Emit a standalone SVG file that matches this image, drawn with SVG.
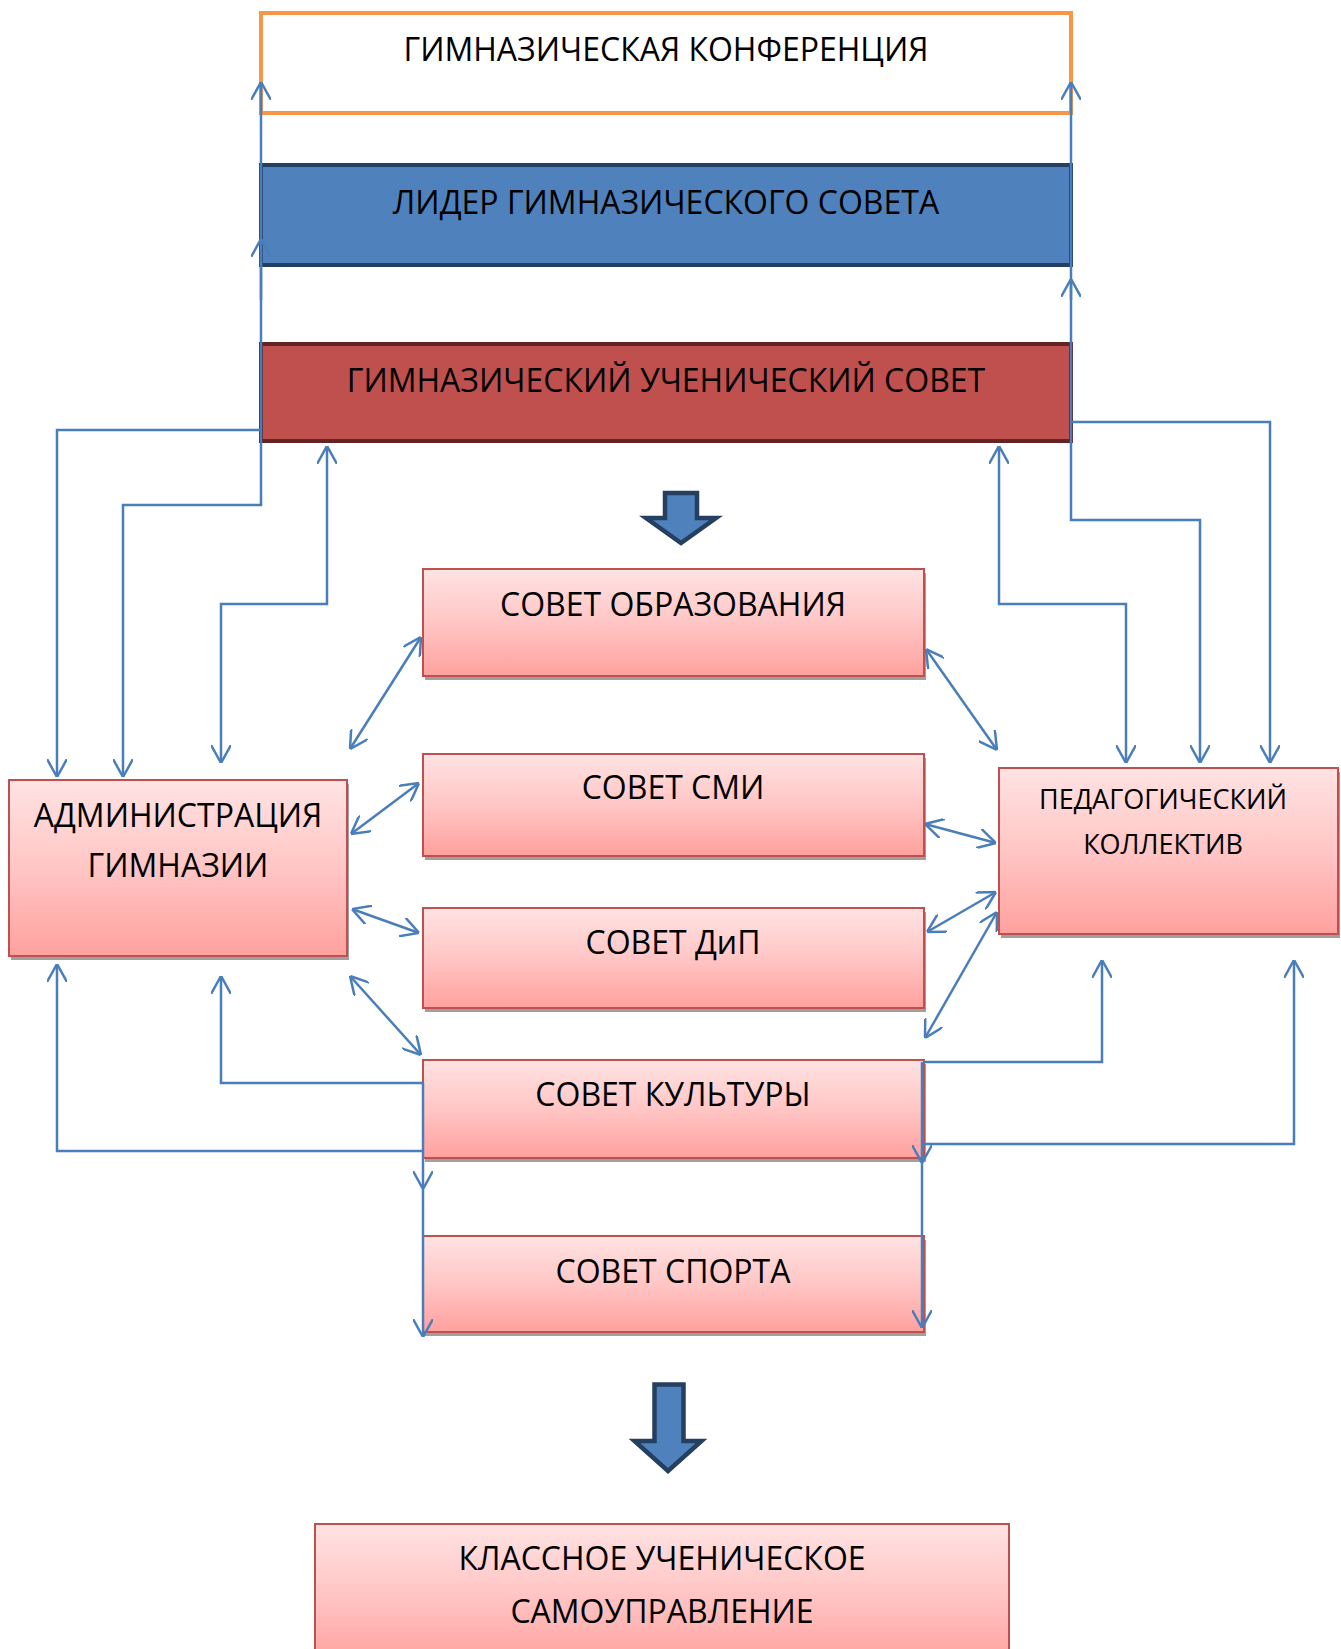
<svg xmlns="http://www.w3.org/2000/svg" width="1341" height="1649" viewBox="0 0 1341 1649">
<style>
.t{font-family:"Open Sans","Noto Sans","Liberation Sans",sans-serif;font-size:32px;fill:#000;text-anchor:middle}
.ts{font-size:27px}
.pk{fill:url(#pg);stroke:#C0504D;stroke-width:2}
.sh{fill:#A0A0A0}
.c{fill:none;stroke:#4A7EBB;stroke-width:2.5}
.ba{fill:#4F81BD;stroke:#243F60;stroke-width:4.5;stroke-linejoin:miter}
</style>
<defs>
<linearGradient id="pg" x1="0" y1="0" x2="0" y2="1">
<stop offset="0" stop-color="#FFE3E3"/>
<stop offset="0.5" stop-color="#FFC6C5"/>
<stop offset="1" stop-color="#FFA19E"/>
</linearGradient>
<marker id="a" viewBox="0 0 18 20" refX="18" refY="10" markerWidth="18" markerHeight="20" markerUnits="userSpaceOnUse" orient="auto-start-reverse">
<path d="M0,0 L18,10 L0,20" fill="none" stroke="#4A7EBB" stroke-width="2.5"/>
</marker>
</defs>

<g id="conf">
<rect x="261" y="13" width="810" height="100" fill="#FFFFFF" stroke="#F79646" stroke-width="4"/>
<text class="t" x="666" y="61">ГИМНАЗИЧЕСКАЯ КОНФЕРЕНЦИЯ</text>
</g>
<g id="leader">
<rect x="261" y="165" width="810" height="100" fill="#4F81BD" stroke="#243F60" stroke-width="4"/>
<text class="t" x="666" y="214">ЛИДЕР ГИМНАЗИЧЕСКОГО СОВЕТА</text>
</g>
<g id="council">
<rect x="261" y="344" width="810" height="97" fill="#C0504D" stroke="#632523" stroke-width="4"/>
<text class="t" x="666" y="392">ГИМНАЗИЧЕСКИЙ УЧЕНИЧЕСКИЙ СОВЕТ</text>
</g>

<g id="arrow1">
<polygon class="ba" points="665,493 697,493 697,518 716,518 681,543 646,518 665,518"/>
</g>

<g id="obr">
<rect class="sh" x="425" y="573" width="501" height="107"/>
<rect class="pk" x="423" y="569" width="501" height="107"/>
<text class="t" x="673" y="616">СОВЕТ ОБРАЗОВАНИЯ</text>
</g>
<g id="smi">
<rect class="sh" x="425" y="758" width="501" height="102"/>
<rect class="pk" x="423" y="754" width="501" height="102"/>
<text class="t" x="673" y="799">СОВЕТ СМИ</text>
</g>
<g id="dip">
<rect class="sh" x="425" y="912" width="501" height="100"/>
<rect class="pk" x="423" y="908" width="501" height="100"/>
<text class="t" x="673" y="954">СОВЕТ ДиП</text>
</g>
<g id="kult">
<rect class="sh" x="425" y="1064" width="501" height="98"/>
<rect class="pk" x="423" y="1060" width="501" height="98"/>
<text class="t" x="673" y="1106">СОВЕТ КУЛЬТУРЫ</text>
</g>
<g id="sport">
<rect class="sh" x="425" y="1240" width="501" height="96"/>
<rect class="pk" x="423" y="1236" width="501" height="96"/>
<text class="t" x="673" y="1283">СОВЕТ СПОРТА</text>
</g>
<g id="admin">
<rect class="sh" x="11" y="784" width="338" height="176"/>
<rect class="pk" x="9" y="780" width="338" height="176"/>
<text class="t" x="178" y="827">АДМИНИСТРАЦИЯ</text>
<text class="t" x="178" y="877">ГИМНАЗИИ</text>
</g>
<g id="ped">
<rect class="sh" x="1001" y="772" width="339" height="166"/>
<rect class="pk" x="999" y="768" width="339" height="166"/>
<text class="t ts" x="1163" y="809">ПЕДАГОГИЧЕСКИЙ</text>
<text class="t ts" x="1163" y="854">КОЛЛЕКТИВ</text>
</g>

<g id="arrow2">
<polygon class="ba" points="654.5,1384.5 683.5,1384.5 683.5,1441 701.5,1441 668,1471 634.5,1441 654.5,1441"/>
</g>

<g id="klass">
<rect class="pk" x="315" y="1524" width="694" height="140"/>
<text class="t" x="662" y="1570">КЛАССНОЕ УЧЕНИЧЕСКОЕ</text>
<text class="t" x="662" y="1623">САМОУПРАВЛЕНИЕ</text>
</g>

<g id="connectors">
<path class="c" d="M261,430 L57,430 L57,777" marker-end="url(#a)"/>
<path class="c" d="M123,777 L123,505 L261,505 L261,82" marker-start="url(#a)" marker-end="url(#a)"/>
<path class="c" d="M261,300 L261,239" marker-end="url(#a)"/>
<path class="c" d="M221,763 L221,604 L327,604 L327,446" marker-start="url(#a)" marker-end="url(#a)"/>
<path class="c" d="M1200,763 L1200,520 L1071,520 L1071,82" marker-start="url(#a)" marker-end="url(#a)"/>
<path class="c" d="M1071,300 L1071,279" marker-end="url(#a)"/>
<path class="c" d="M1071,422 L1270,422 L1270,763" marker-end="url(#a)"/>
<path class="c" d="M1126,763 L1126,604 L999,604 L999,446" marker-start="url(#a)" marker-end="url(#a)"/>
<path class="c" d="M350,749 L421,637" marker-start="url(#a)" marker-end="url(#a)"/>
<path class="c" d="M926,649 L997,750" marker-start="url(#a)" marker-end="url(#a)"/>
<path class="c" d="M351,834 L419,783" marker-start="url(#a)" marker-end="url(#a)"/>
<path class="c" d="M925,824 L996,843" marker-start="url(#a)" marker-end="url(#a)"/>
<path class="c" d="M352,909 L419,933" marker-start="url(#a)" marker-end="url(#a)"/>
<path class="c" d="M927,932 L996,892" marker-start="url(#a)" marker-end="url(#a)"/>
<path class="c" d="M350,976 L421,1055" marker-start="url(#a)" marker-end="url(#a)"/>
<path class="c" d="M925,1038 L997,912" marker-start="url(#a)" marker-end="url(#a)"/>
<path class="c" d="M423,1151 L57,1151 L57,964" marker-end="url(#a)"/>
<path class="c" d="M423,1083 L221,1083 L221,976" marker-end="url(#a)"/>
<path class="c" d="M923,1062 L1102,1062 L1102,960" marker-end="url(#a)"/>
<path class="c" d="M922,1144 L1294,1144 L1294,960" marker-end="url(#a)"/>
<path class="c" d="M423,1083 L423,1189" marker-end="url(#a)"/>
<path class="c" d="M423,1189 L423,1337" marker-end="url(#a)"/>
<path class="c" d="M922,1062 L922,1163" marker-end="url(#a)"/>
<path class="c" d="M922,1163 L922,1328" marker-end="url(#a)"/>
</g>
</svg>
